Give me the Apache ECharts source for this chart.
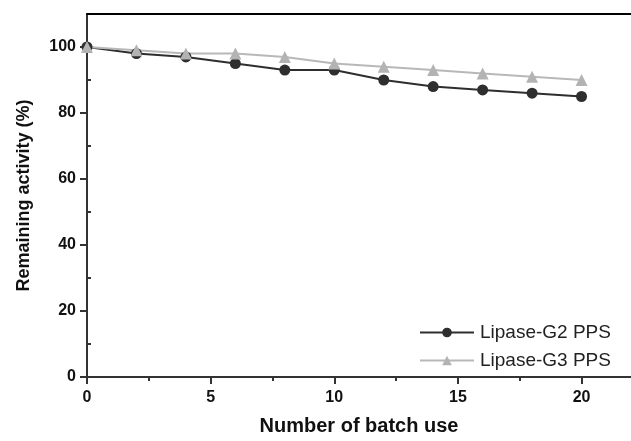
<!DOCTYPE html>
<html>
<head>
<meta charset="utf-8">
<script src="https://cdn.jsdelivr.net/npm/echarts@6/dist/echarts.min.js"></script>
<style>
	html,body{margin:0;padding:0;background:#fff;}
	#main{width:631px;height:441px;}
</style>
</head>
<body>
<div id="main"></div>
<script>
	// batch number and remaining activity (%)
	var batches=[0,2,4,6,8,10,12,14,16,18,20];
	var g2Data=[100,98,97,95,93,93,90,88,87,86,85];
	var g3Data=[100,99,98,98,97,95,94,93,92,91,90];
	var xMajor=[0,5,10,15,20];
	var xMinor=[2.5,7.5,12.5,17.5];
	var yMajor=[0,20,40,60,80,100];
	var yMinor=[10,30,50,70,90];

	function pairs(xs,ys){
		var out=[];
		for(var i=0;i<xs.length;i++){
			out.push([xs[i],ys[i]]);
		}
		return out;
	}

	var font='"Liberation Sans", Arial, sans-serif';
	var axisColor='#333';
	var myChart=echarts.init(document.getElementById("main"));
	var option={
		backgroundColor:'#fff',
		animation:false,
		grid:{left:87,right:-9,top:14,bottom:58},
		legend:{
			orient:'vertical',
			left:414,
			top:318,
			itemWidth:54,
			itemHeight:12,
			itemGap:9,
			textStyle:{fontFamily:font,fontSize:19,color:'#222',padding:[0,0,0,1]},
			data:['Lipase-G2 PPS','Lipase-G3 PPS']
		},
		xAxis:[
			{
				type:'value',min:0,max:22,position:'bottom',
				name:'Number of batch use',nameLocation:'middle',nameGap:39,
				nameTextStyle:{fontFamily:font,fontSize:20,fontWeight:'bold',color:'#111'},
				axisLine:{lineStyle:{color:axisColor,width:2}},
				axisTick:{customValues:xMajor,length:7,lineStyle:{color:axisColor,width:2}},
				axisLabel:{customValues:xMajor,margin:13,fontFamily:font,fontSize:16,fontWeight:'bold',color:'#111'},
				splitLine:{show:false}
			},
			{
				type:'value',min:0,max:22,position:'bottom',
				axisLine:{show:false},
				axisTick:{customValues:xMinor,length:4,lineStyle:{color:axisColor,width:2}},
				axisLabel:{show:false},
				splitLine:{show:false}
			},
			{
				type:'value',min:0,max:22,position:'top',
				axisLine:{lineStyle:{color:'#000',width:2}},
				axisTick:{show:false},
				axisLabel:{show:false},
				splitLine:{show:false}
			}
		],
		yAxis:[
			{
				type:'value',min:0,max:110,
				name:'Remaining activity (%)',nameLocation:'middle',nameGap:54,
				nameTextStyle:{fontFamily:font,fontSize:18,fontWeight:'bold',color:'#111'},
				axisLine:{lineStyle:{color:axisColor,width:2}},
				axisTick:{customValues:yMajor,length:7,lineStyle:{color:axisColor,width:2}},
				axisLabel:{customValues:yMajor,margin:11,fontFamily:font,fontSize:16,fontWeight:'bold',color:'#111'},
				splitLine:{show:false}
			},
			{
				type:'value',min:0,max:110,
				axisLine:{show:false},
				axisTick:{customValues:yMinor,length:4,lineStyle:{color:axisColor,width:2}},
				axisLabel:{show:false},
				splitLine:{show:false}
			}
		],
		series:[
			{
				name:'Lipase-G2 PPS',
				type:'line',
				data:pairs(batches,g2Data),
				symbol:'circle',
				symbolSize:11,
				lineStyle:{color:'#2e2e2e',width:2},
				itemStyle:{color:'#2e2e2e'}
			},
			{
				name:'Lipase-G3 PPS',
				type:'line',
				data:pairs(batches,g3Data),
				symbol:'triangle',
				symbolSize:12,
				lineStyle:{color:'#b8b8b8',width:2},
				itemStyle:{color:'#b3b3b3'}
			}
		]
	};
	myChart.setOption(option);
</script>
</body>
</html>
